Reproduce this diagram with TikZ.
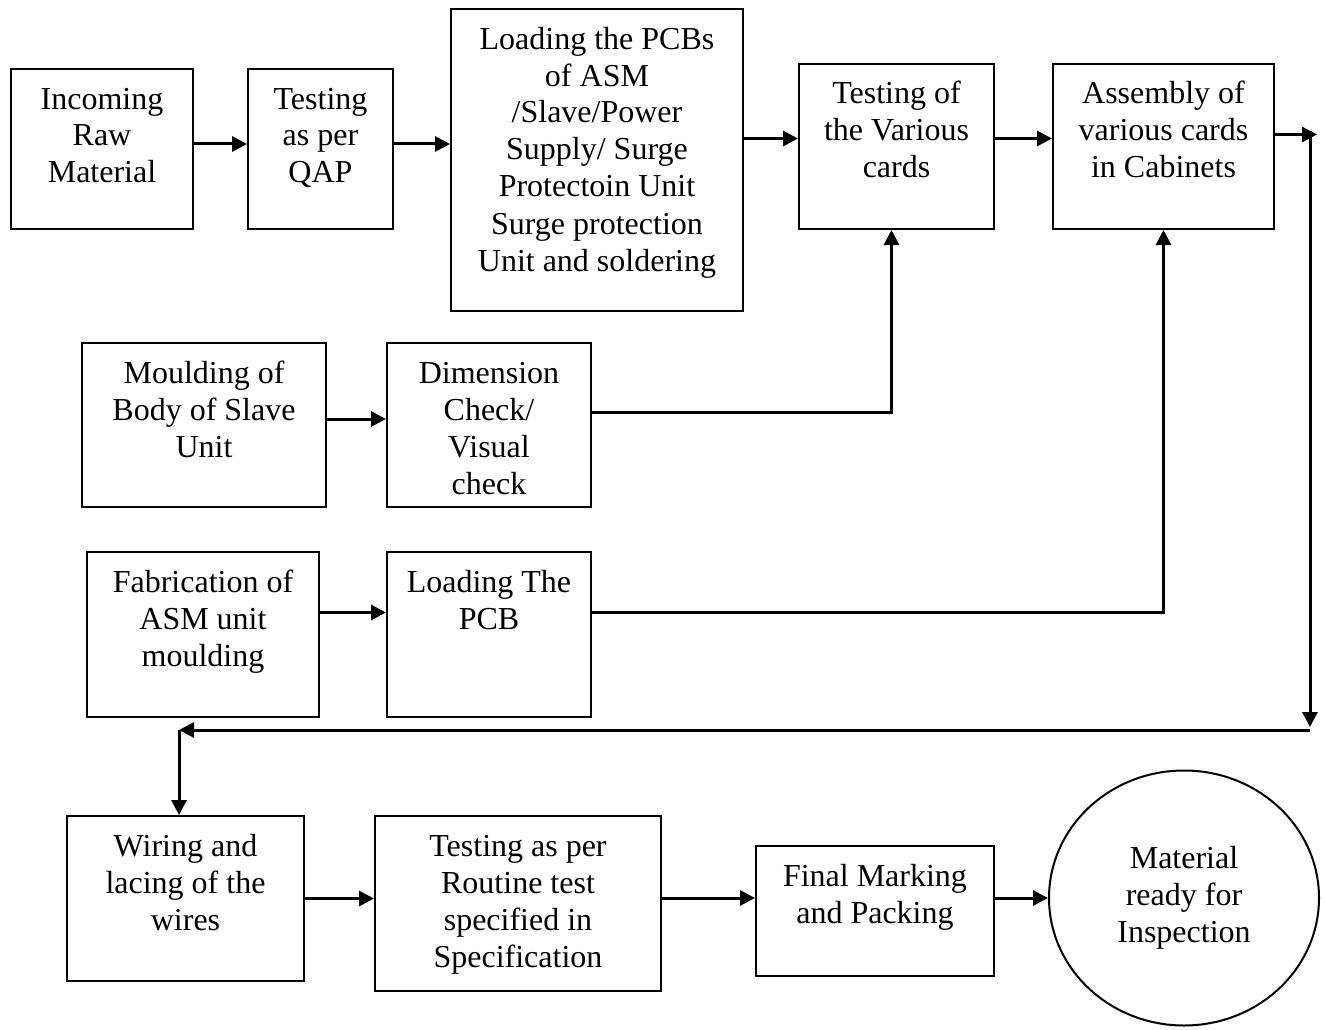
\documentclass[tikz,border=0pt]{standalone}
\usepackage{fontspec}
\setmainfont{Liberation Serif}
\usetikzlibrary{arrows.meta,shapes.geometric}
% text set from the top of a box
\newcommand{\boxtxt}[3]{\parbox[c][#2][t]{#1}{\centering\rule{0pt}{40pt}#3\par}}

\begin{document}
\begin{tikzpicture}[x=1pt,y=-1pt,
  stepbox/.style={draw,line width=2pt,inner sep=0pt,anchor=north west,
    font=\fontsize{32}{37}\selectfont},
  endbox/.style={draw,ellipse,line width=2pt,inner sep=0pt,
    minimum width=270pt,minimum height=255pt,align=center,
    font=\fontsize{32}{37}\selectfont},
  arr/.style={line width=3pt,-{Triangle[length=15pt,width=15pt]}}]
\useasboundingbox (0,0) rectangle (1325,1030);

% first row
\node[stepbox] (inc) at (10,68) {\boxtxt{182pt}{160pt}{Incoming\\Raw\\Material}};
\node[stepbox] (qap) at (247,68) {\boxtxt{145pt}{160pt}{Testing\\as per\\QAP}};
\node[stepbox] (pcb) at (450,8) {\boxtxt{292pt}{302pt}{Loading the PCBs\\of ASM\\/Slave/Power\\Supply/ Surge\\Protectoin Unit\\Surge protection\\Unit and soldering}};
\node[stepbox] (tstcard) at (798,63) {\boxtxt{195pt}{165pt}{Testing of\\the Various\\cards}};
\node[stepbox] (asm) at (1052,63) {\boxtxt{221pt}{165pt}{Assembly of\\various cards\\in Cabinets}};

% slave unit body
\node[stepbox] (mould) at (81,342) {\boxtxt{244pt}{164pt}{Moulding of\\Body of Slave\\Unit}};
\node[stepbox] (dimchk) at (386,342) {\boxtxt{204pt}{164pt}{Dimension\\Check/\\Visual\\check}};

% ASM unit
\node[stepbox] (fab) at (86,551) {\boxtxt{232pt}{165pt}{Fabrication of\\ASM unit\\moulding}};
\node[stepbox] (ldpcb) at (386,551) {\boxtxt{204pt}{165pt}{Loading The\\PCB}};

% last row
\node[stepbox] (wire) at (66,815) {\boxtxt{237pt}{165pt}{Wiring and\\lacing of the\\wires}};
\node[stepbox] (routine) at (374,815) {\boxtxt{286pt}{175pt}{Testing as per\\Routine test\\specified in\\Specification}};
\node[stepbox] (final) at (755,845) {\boxtxt{238pt}{130pt}{Final Marking\\and Packing}};
\node[endbox] (ready) at (1184,898) {Material\\ready for\\Inspection};

% return path
\coordinate (ctop) at (1310,131);
\coordinate (cbot) at (1310,730);
\coordinate (lcorner) at (179,730);

\draw[arr] ([yshift=5pt]inc.east) -- ([yshift=5pt]qap.west);
\draw[arr] ([yshift=5pt]qap.east) -- ([yshift=5pt]qap.east -| pcb.west);
\draw[arr] ([yshift=8pt]tstcard.west -| pcb.east) -- ([yshift=8pt]tstcard.west);
\draw[arr] ([yshift=8pt]tstcard.east) -- ([yshift=8pt]asm.west);
\draw[arr] ([yshift=12pt]asm.east) -- ([xshift=7pt,yshift=12pt]asm.east -| ctop);
\draw[arr] (ctop) -- ([yshift=3pt]cbot);
\draw[arr] (cbot) -- (lcorner);
\draw[arr] (lcorner) -- (lcorner |- wire.north);
\draw[arr] ([yshift=6pt]mould.east) -- ([yshift=6pt]dimchk.west);
\draw[arr] ([yshift=13pt]dimchk.east) -| ([xshift=-5pt]tstcard.south);
\draw[arr] ([yshift=22pt]fab.east) -- ([yshift=22pt]fab.east -| ldpcb.west);
\draw[arr] ([yshift=22pt]ldpcb.east) -| (asm.south);
\draw[arr] (wire.east) -- (wire.east -| routine.west);
\draw[arr] ([yshift=13pt]final.west -| routine.east) -- ([yshift=13pt]final.west);
\draw[arr] ([yshift=13pt]final.east) -- ([yshift=13pt]final.east -| ready.west);
\end{tikzpicture}
\end{document}
